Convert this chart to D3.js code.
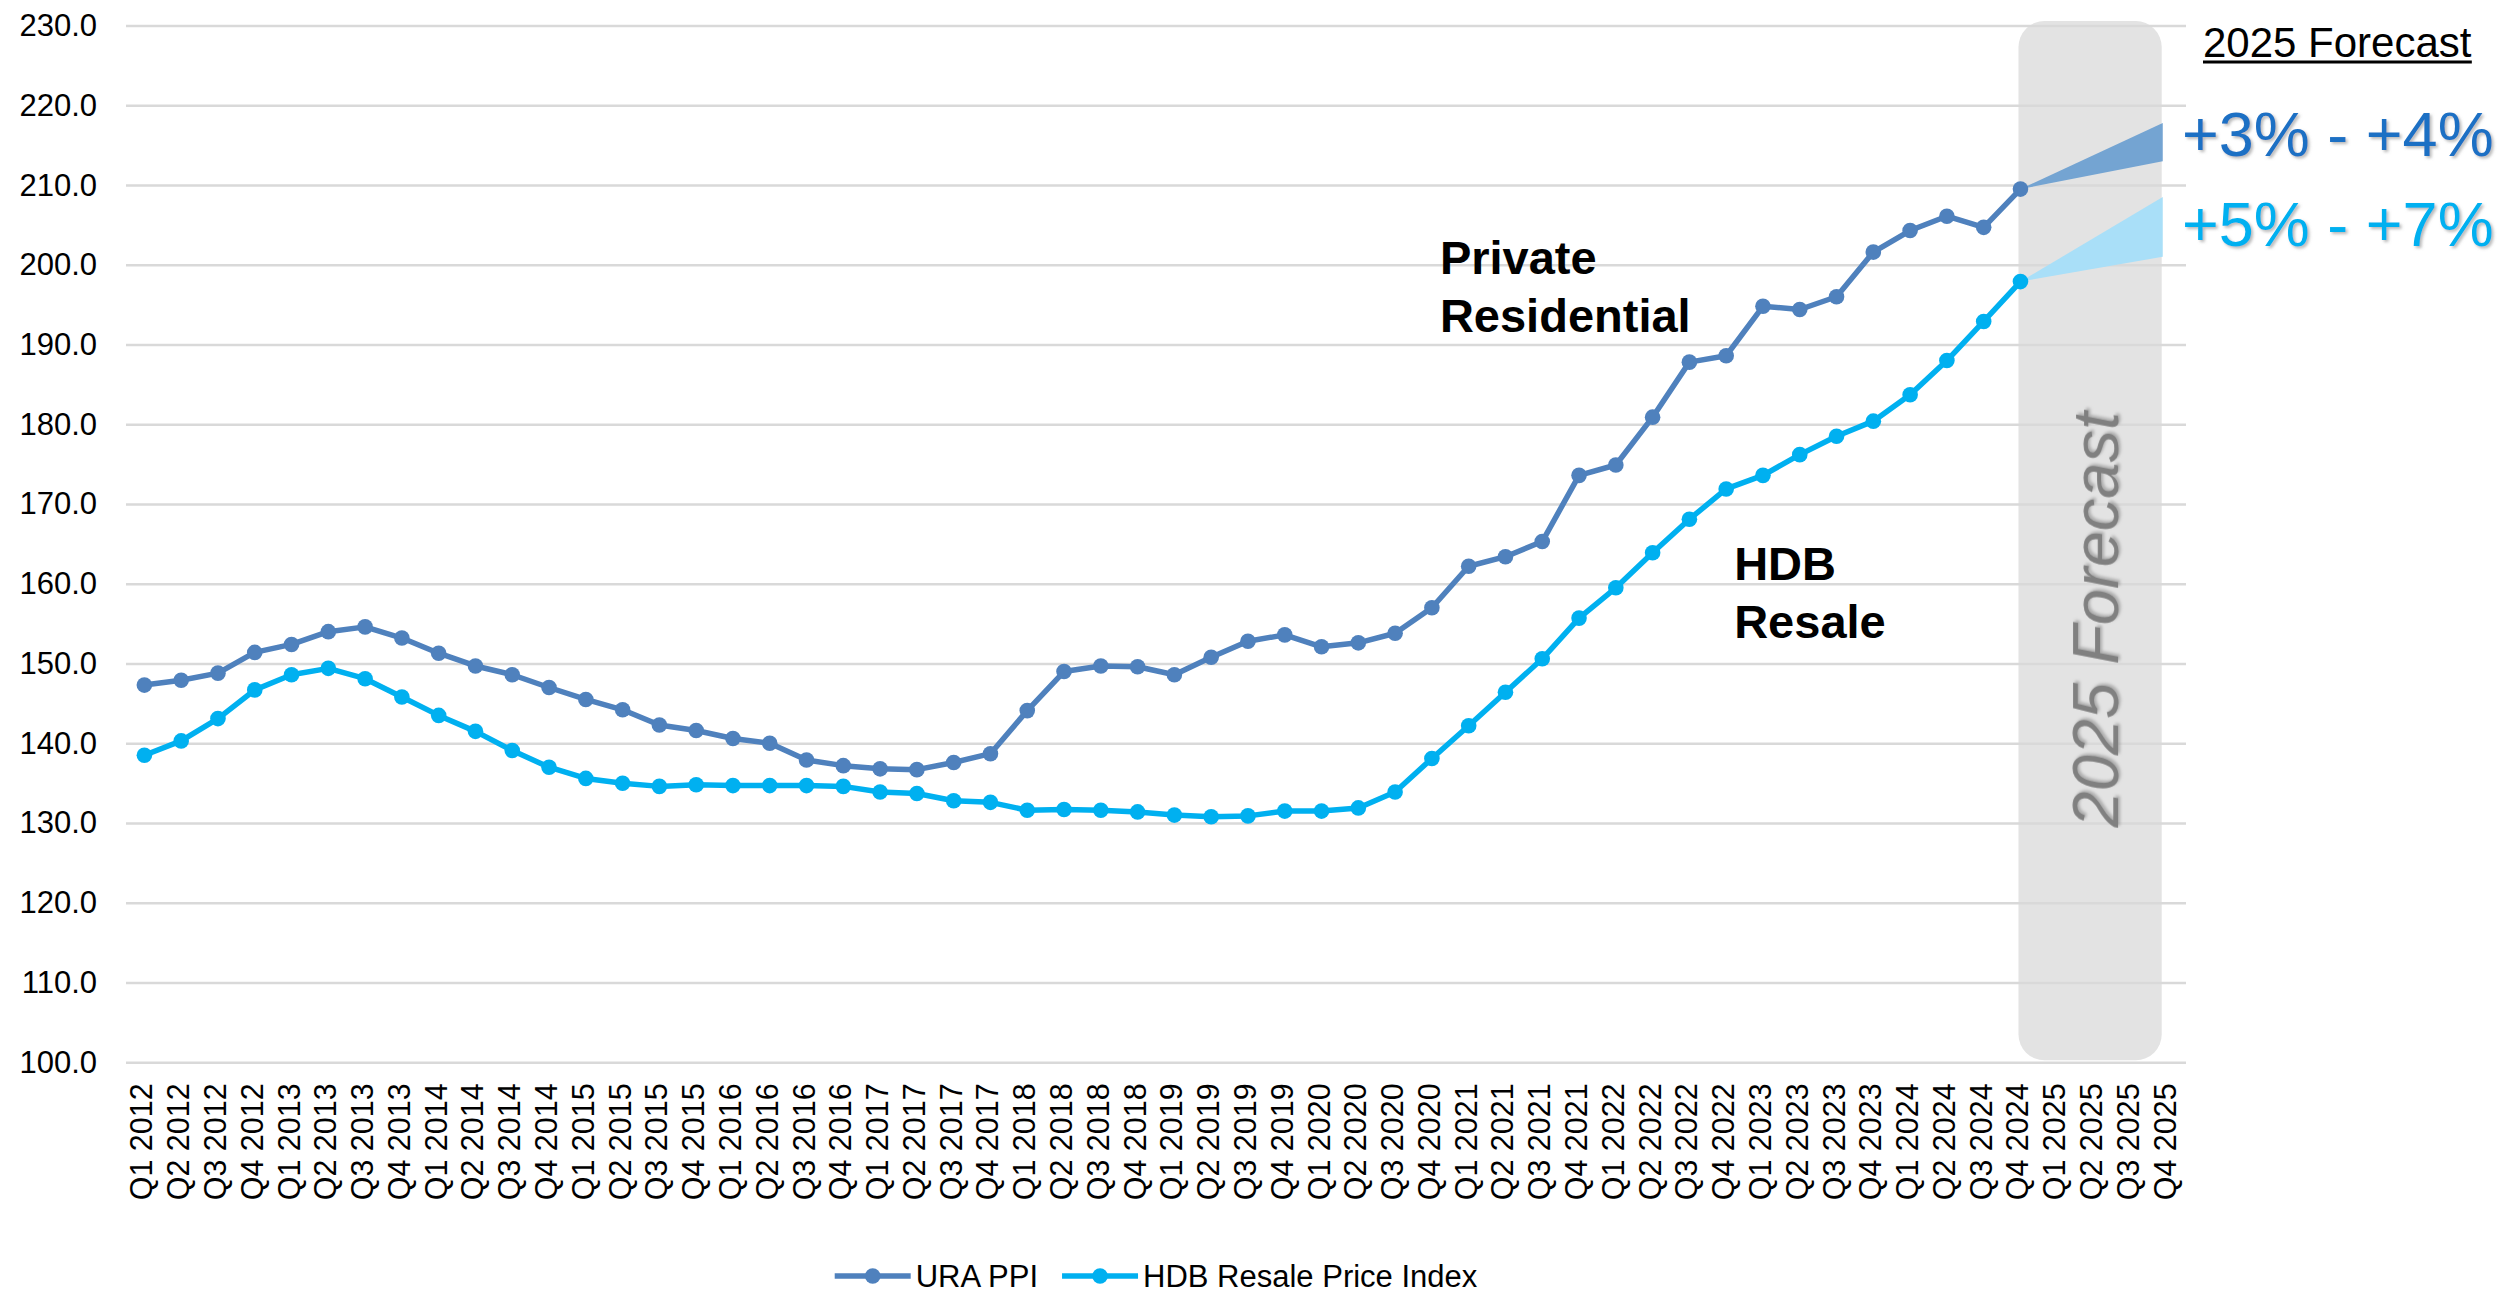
<!DOCTYPE html>
<html>
<head>
<meta charset="utf-8">
<script src="https://cdn.jsdelivr.net/npm/d3@7"></script>
<style>
  html, body { margin: 0; padding: 0; background: #ffffff; }
  svg { display: block; }
  text { font-family: "Liberation Sans", Arial, "Helvetica", sans-serif; }
</style>
</head>
<body>
<svg id="chart" width="2506" height="1295"></svg>
<script>
// Quarterly categories, Q1 2012 through Q4 2025
const years = [2012, 2013, 2014, 2015, 2016, 2017, 2018, 2019, 2020, 2021, 2022, 2023, 2024, 2025];
const quarterNames = ["Q1", "Q2", "Q3", "Q4"];
const categories = years.flatMap(yr => quarterNames.map(q => `${q} ${yr}`));

// URA Private Residential Property Price Index, Q1 2012 – Q4 2024
const uraPPI = [
  147.3, 147.9, 148.8, 151.4,
  152.4, 154.0, 154.6, 153.2,
  151.3, 149.7, 148.6, 147.0,
  145.5, 144.2, 142.3, 141.6,
  140.6, 140.0, 137.9, 137.2,
  136.8, 136.7, 137.6, 138.7,
  144.1, 149.0, 149.7, 149.6,
  148.6, 150.8, 152.8, 153.6,
  152.1, 152.6, 153.8, 157.0,
  162.2, 163.4, 165.3, 173.6,
  174.9, 180.9, 187.8, 188.6,
  194.8, 194.4, 196.0, 201.6,
  204.3, 206.1, 204.7, 209.5
];

// HDB Resale Price Index, Q1 2012 – Q4 2024
const hdbRPI = [
  138.5, 140.3, 143.1, 146.7,
  148.6, 149.4, 148.1, 145.8,
  143.5, 141.5, 139.1, 137.0,
  135.6, 135.0, 134.6, 134.8,
  134.7, 134.7, 134.7, 134.6,
  133.9, 133.7, 132.8, 132.6,
  131.6, 131.7, 131.6, 131.4,
  131.0, 130.8, 130.9, 131.5,
  131.5, 131.9, 133.9, 138.1,
  142.2, 146.4, 150.6, 155.7,
  159.5, 163.9, 168.1, 171.9,
  173.6, 176.2, 178.5, 180.4,
  183.7, 188.0, 192.9, 197.9
];

const seriesNames = ["URA PPI", "HDB Resale Price Index"];
const seriesColors = ["#4f81bd", "#00b0f0"];

// 2025 forecast ranges drawn as wedges from the last actual quarter
const forecastLabels = ["+3% - +4%", "+5% - +7%"];
const forecastLow = [213.0, 201.0];
const forecastHigh = [217.8, 208.5];
const forecastColors = ["#74a4d2", "#a9dff8"];
const forecastTextColors = ["#1f70c4", "#00b0f0"];

// Axis ticks
const yTicks = [100, 110, 120, 130, 140, 150, 160, 170, 180, 190, 200, 210, 220, 230];

// Series annotations
const annotations = [
  { lines: ["Private", "Residential"], category: "Q4 2020", value: 198.8 },
  { lines: ["HDB", "Resale"], category: "Q4 2022", value: 160.5 }
];

const svg = d3.select("#chart");
const plot = { left: 126, right: 2186, top: 25.6, bottom: 1062.3 };

const x = d3.scaleBand().domain(categories).range([plot.left, plot.right]).padding(0);
const bw = x.bandwidth();
const xc = c => x(c) + bw / 2;
const y = d3.scaleLinear().domain([100, 230]).range([plot.bottom, plot.top]);

const defs = svg.append("defs");
const shadow = defs.append("filter").attr("id", "soft-shadow")
  .attr("x", "-10%").attr("y", "-10%").attr("width", "120%").attr("height", "130%");
shadow.append("feDropShadow").attr("dx", 2).attr("dy", 2).attr("stdDeviation", 1.5)
  .attr("flood-color", "#808080").attr("flood-opacity", 0.55);

// Forecast period panel (behind the gridlines)
const lastActual = categories[uraPPI.length - 1];
const lastCat = categories[categories.length - 1];
const panelLeft = xc(lastActual) - 2;
const panelRight = xc(lastCat) - bw * 0.16;
svg.append("rect")
  .attr("x", panelLeft)
  .attr("y", y(230) - 4.5)
  .attr("width", panelRight - panelLeft)
  .attr("height", y(100) - 2 - (y(230) - 4.5))
  .attr("rx", 26).attr("ry", 26)
  .attr("fill", "#e3e3e3");

// Y axis with gridlines
const yAxis = d3.axisLeft(y)
  .tickValues(yTicks)
  .tickFormat(d3.format(".1f"))
  .tickSize(-(plot.right - plot.left))
  .tickPadding(29);
const gy = svg.append("g").attr("transform", `translate(${plot.left},0)`).call(yAxis);
gy.select(".domain").remove();
gy.selectAll(".tick line").attr("stroke", "#d9d9d9").attr("stroke-width", 2.5);
gy.selectAll(".tick text")
  .attr("font-size", 31)
  .attr("fill", "#000")
  .attr("font-family", "'Liberation Sans', Arial, sans-serif");

// X axis with vertical quarter labels
const xAxis = d3.axisBottom(x).tickSize(0);
const gx = svg.append("g").attr("transform", `translate(0,${plot.bottom})`).call(xAxis);
gx.select(".domain").remove();
gx.selectAll(".tick text")
  .attr("transform", "rotate(-90)")
  .attr("text-anchor", "end")
  .attr("x", -21)
  .attr("y", 8)
  .attr("dy", 0)
  .attr("font-size", 30.5)
  .attr("fill", "#000")
  .attr("font-family", "'Liberation Sans', Arial, sans-serif");

// Forecast wedges
const seriesData = [uraPPI, hdbRPI];
const xEnd = panelRight + 1;
seriesData.forEach((vals, i) => {
  const base = vals[vals.length - 1];
  const pts = [[xc(lastActual), y(base)], [xEnd, y(forecastHigh[i])], [xEnd, y(forecastLow[i])]];
  svg.append("path")
    .attr("d", d3.line()(pts) + "Z")
    .attr("fill", forecastColors[i]);
});

// Series lines and markers
const line = d3.line()
  .x((d, i) => xc(categories[i]))
  .y(d => y(d));

seriesData.forEach((vals, i) => {
  const g = svg.append("g");
  g.append("path")
    .datum(vals)
    .attr("d", line)
    .attr("fill", "none")
    .attr("stroke", seriesColors[i])
    .attr("stroke-width", 5.5)
    .attr("stroke-linejoin", "round");
  g.selectAll("circle")
    .data(vals)
    .join("circle")
    .attr("cx", (d, j) => xc(categories[j]))
    .attr("cy", d => y(d))
    .attr("r", 7.8)
    .attr("fill", seriesColors[i]);
});

// Vertical label inside the forecast panel
svg.append("text")
  .attr("transform", `translate(${(panelLeft + panelRight) / 2 + 5},${y(155.5)}) rotate(-90)`)
  .attr("text-anchor", "middle")
  .attr("dominant-baseline", "central")
  .attr("font-size", 65)
  .attr("font-style", "italic")
  .attr("fill", "#808080")
  .attr("filter", "url(#soft-shadow)")
  .text("2025 Forecast");

// Series annotations
annotations.forEach(a => {
  const t = svg.append("text")
    .attr("x", xc(a.category) + 8)
    .attr("y", y(a.value))
    .attr("font-size", 47)
    .attr("font-weight", "bold")
    .attr("fill", "#000");
  a.lines.forEach((ln, k) => {
    t.append("tspan")
      .attr("x", xc(a.category) + 8)
      .attr("dy", k === 0 ? 0 : 58)
      .text(ln);
  });
});

// Forecast heading and ranges on the right
const rightX = plot.right - 4;
const heading = svg.append("text")
  .attr("x", rightX + 21)
  .attr("y", 57)
  .attr("font-size", 42)
  .attr("fill", "#000")
  .text("2025 Forecast");
const hb = heading.node().getBBox();
svg.append("rect")
  .attr("x", hb.x).attr("y", 60.5)
  .attr("width", hb.width).attr("height", 3)
  .attr("fill", "#000");

forecastLabels.forEach((lbl, i) => {
  svg.append("text")
    .attr("x", rightX)
    .attr("y", 156 + i * 90)
    .attr("font-size", 63)
    .attr("fill", forecastTextColors[i])
    .attr("filter", "url(#soft-shadow)")
    .text(lbl);
});

// Legend centred under the plot
const legend = svg.append("g");
const legendY = 1276;
const symbolLen = 76;
const itemGap = 24;
let cursor = 0;
seriesNames.forEach((name, i) => {
  const item = legend.append("g").attr("transform", `translate(${cursor},0)`);
  item.append("line")
    .attr("x1", 0).attr("x2", symbolLen)
    .attr("y1", legendY).attr("y2", legendY)
    .attr("stroke", seriesColors[i]).attr("stroke-width", 5.5);
  item.append("circle")
    .attr("cx", symbolLen / 2).attr("cy", legendY).attr("r", 7.8)
    .attr("fill", seriesColors[i]);
  const t = item.append("text")
    .attr("x", symbolLen + 5)
    .attr("y", legendY + 11)
    .attr("font-size", 31)
    .attr("fill", "#000")
    .text(name);
  cursor += symbolLen + 5 + t.node().getComputedTextLength() + itemGap;
});
const legendWidth = cursor - itemGap;
legend.attr("transform", `translate(${(plot.left + plot.right) / 2 - legendWidth / 2},0)`);
</script>
</body>
</html>
